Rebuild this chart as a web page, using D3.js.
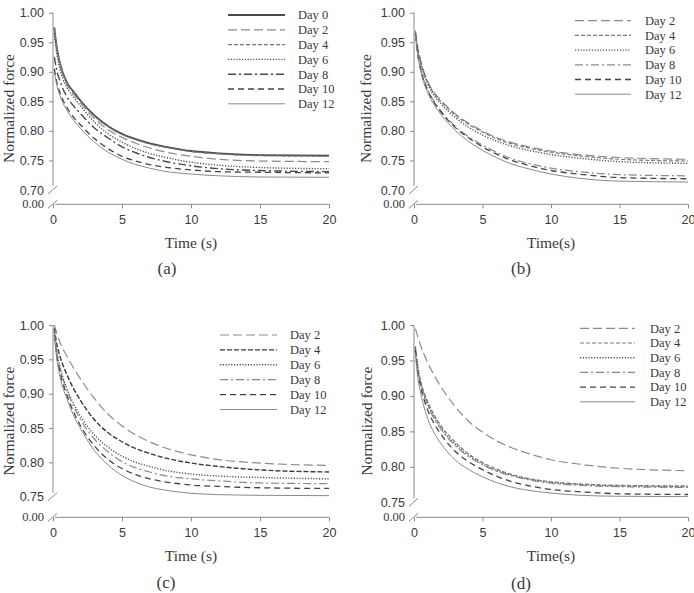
<!DOCTYPE html>
<html>
<head>
<meta charset="utf-8">
<script src="https://cdn.jsdelivr.net/npm/d3@7"></script>
<style>
  body { margin: 0; background: #fff; }
  svg { display: block; font-family: "Liberation Serif", "Times New Roman", serif; }
</style>
</head>
<body>
<svg width="694" height="593"></svg>
<script>
// time points (s) shared by every curve
const TIME = [0.1, 0.25, 0.5, 1, 1.5, 2, 3, 4, 5, 6, 7, 8, 10, 12, 15, 20];
const X_TICKS = [0, 5, 10, 15, 20];
const Y_TICKS_AB = [0.70, 0.75, 0.80, 0.85, 0.90, 0.95, 1.00];
const Y_TICKS_CD = [0.75, 0.80, 0.85, 0.90, 0.95, 1.00];

// (a)
const DAYS_A = ["Day 0", "Day 2", "Day 4", "Day 6", "Day 8", "Day 10", "Day 12"];
const VALUES_A = [
  [0.975, 0.945, 0.915, 0.882, 0.866, 0.851, 0.826, 0.808, 0.795, 0.786, 0.779, 0.774, 0.766, 0.762, 0.759, 0.758],
  [0.970, 0.942, 0.912, 0.879, 0.862, 0.847, 0.821, 0.802, 0.789, 0.779, 0.771, 0.765, 0.757, 0.752, 0.749, 0.748],
  [0.972, 0.944, 0.914, 0.881, 0.865, 0.850, 0.825, 0.807, 0.794, 0.785, 0.778, 0.773, 0.765, 0.761, 0.758, 0.757],
  [0.965, 0.935, 0.905, 0.874, 0.857, 0.842, 0.815, 0.795, 0.781, 0.770, 0.762, 0.756, 0.747, 0.742, 0.738, 0.736],
  [0.925, 0.905, 0.885, 0.858, 0.842, 0.829, 0.805, 0.788, 0.773, 0.763, 0.755, 0.749, 0.741, 0.736, 0.733, 0.731],
  [0.905, 0.885, 0.865, 0.840, 0.823, 0.810, 0.787, 0.770, 0.757, 0.749, 0.743, 0.739, 0.734, 0.731, 0.730, 0.729],
  [0.900, 0.880, 0.860, 0.835, 0.818, 0.804, 0.781, 0.764, 0.752, 0.743, 0.737, 0.732, 0.727, 0.724, 0.722, 0.7215]
];

// (b)
const DAYS_B = ["Day 2", "Day 4", "Day 6", "Day 8", "Day 10", "Day 12"];
const VALUES_B = [
  [0.970, 0.945, 0.918, 0.884, 0.864, 0.851, 0.829, 0.813, 0.800, 0.789, 0.781, 0.775, 0.766, 0.760, 0.755, 0.752],
  [0.968, 0.943, 0.916, 0.882, 0.862, 0.849, 0.827, 0.811, 0.798, 0.787, 0.779, 0.773, 0.764, 0.758, 0.752, 0.749],
  [0.966, 0.940, 0.913, 0.879, 0.859, 0.845, 0.823, 0.806, 0.793, 0.783, 0.775, 0.769, 0.760, 0.754, 0.748, 0.745],
  [0.965, 0.935, 0.905, 0.870, 0.849, 0.833, 0.808, 0.790, 0.776, 0.764, 0.754, 0.747, 0.737, 0.731, 0.726, 0.724],
  [0.963, 0.933, 0.903, 0.868, 0.847, 0.831, 0.806, 0.788, 0.773, 0.761, 0.751, 0.744, 0.733, 0.727, 0.721, 0.719],
  [0.962, 0.932, 0.900, 0.865, 0.843, 0.827, 0.801, 0.782, 0.767, 0.755, 0.745, 0.738, 0.727, 0.720, 0.715, 0.7135]
];

// (c)
const DAYS_C = ["Day 2", "Day 4", "Day 6", "Day 8", "Day 10", "Day 12"];
const VALUES_C = [
  [1.000, 0.990, 0.975, 0.955, 0.937, 0.921, 0.893, 0.870, 0.853, 0.840, 0.830, 0.822, 0.811, 0.804, 0.799, 0.7955],
  [0.995, 0.975, 0.955, 0.928, 0.907, 0.890, 0.862, 0.843, 0.830, 0.820, 0.813, 0.807, 0.799, 0.794, 0.789, 0.786],
  [0.990, 0.965, 0.940, 0.908, 0.885, 0.867, 0.840, 0.822, 0.809, 0.800, 0.794, 0.789, 0.783, 0.780, 0.778, 0.776],
  [0.990, 0.962, 0.937, 0.905, 0.881, 0.862, 0.834, 0.815, 0.801, 0.792, 0.786, 0.781, 0.776, 0.773, 0.770, 0.769],
  [0.985, 0.958, 0.932, 0.898, 0.873, 0.853, 0.824, 0.804, 0.791, 0.782, 0.776, 0.772, 0.767, 0.765, 0.763, 0.762],
  [0.985, 0.955, 0.925, 0.893, 0.868, 0.849, 0.817, 0.796, 0.781, 0.771, 0.764, 0.760, 0.755, 0.753, 0.752, 0.7515]
];

// (d)
const DAYS_D = ["Day 2", "Day 4", "Day 6", "Day 8", "Day 10", "Day 12"];
const VALUES_D = [
  [0.995, 0.985, 0.970, 0.947, 0.928, 0.912, 0.885, 0.864, 0.849, 0.837, 0.828, 0.821, 0.810, 0.804, 0.798, 0.7945],
  [0.970, 0.945, 0.920, 0.892, 0.872, 0.857, 0.835, 0.818, 0.806, 0.797, 0.790, 0.785, 0.779, 0.776, 0.774, 0.773],
  [0.968, 0.943, 0.918, 0.889, 0.869, 0.854, 0.832, 0.816, 0.804, 0.795, 0.789, 0.784, 0.778, 0.775, 0.773, 0.772],
  [0.966, 0.941, 0.916, 0.887, 0.867, 0.852, 0.830, 0.814, 0.803, 0.794, 0.788, 0.783, 0.777, 0.774, 0.772, 0.771],
  [0.965, 0.938, 0.912, 0.880, 0.860, 0.845, 0.822, 0.807, 0.796, 0.787, 0.780, 0.775, 0.768, 0.765, 0.762, 0.761],
  [0.960, 0.930, 0.903, 0.868, 0.847, 0.832, 0.810, 0.796, 0.786, 0.778, 0.772, 0.768, 0.763, 0.760, 0.7585, 0.758]
];

// line style for each day
const STYLE = {
  "Day 0":  { stroke: "#4a4a4a", width: 1.8, dash: null },
  "Day 2":  { stroke: "#8c8c8c", width: 1.2, dash: "9,4" },
  "Day 4":  { stroke: "#7a7a7a", width: 1.2, dash: "4,2" },
  "Day 6":  { stroke: "#505050", width: 1.4, dash: "1.2,1.6" },
  "Day 8":  { stroke: "#8a8a8a", width: 1.2, dash: "8,3,2,3" },
  "Day 10": { stroke: "#444", width: 1.3, dash: "6,4" },
  "Day 12": { stroke: "#8a8a8a", width: 1.0, dash: null }
};
// a few panels draw a day darker than the others
const OVERRIDE = {
  "(a)": { "Day 8": { stroke: "#4a4a4a", width: 1.4, dash: "8,3,2,3" } },
  "(c)": { "Day 4": { stroke: "#3a3a3a", width: 1.4, dash: "5,2" } }
};

const panels = [
  { days: DAYS_A, values: VALUES_A, yTicks: Y_TICKS_AB, left: 53, right: 329, top: 12.7, bottom: 190, zero: 204.3,
    xTitle: "Time (s)", tag: "(a)", tagX: 167, tagY: 274, yTitleX: 14,
    legend: { x1: 228, x2: 285, tx: 298, y: 15, dy: 14.8 } },
  { days: DAYS_B, values: VALUES_B, yTicks: Y_TICKS_AB, left: 414, right: 688, top: 12.7, bottom: 190, zero: 204.3,
    xTitle: "Time(s)", tag: "(b)", tagX: 521, tagY: 274, yTitleX: 371,
    legend: { x1: 575, x2: 631, tx: 645, y: 20.7, dy: 14.7 } },
  { days: DAYS_C, values: VALUES_C, yTicks: Y_TICKS_CD, left: 53, right: 329, top: 325, bottom: 496.7, zero: 517.3,
    xTitle: "Time (s)", tag: "(c)", tagX: 166, tagY: 588, yTitleX: 14,
    legend: { x1: 220, x2: 277, tx: 290, y: 335, dy: 14.9 } },
  { days: DAYS_D, values: VALUES_D, yTicks: Y_TICKS_CD, left: 414, right: 688, top: 325, bottom: 502.3, zero: 517.3,
    xTitle: "Time(s)", tag: "(d)", tagX: 521, tagY: 589, yTitleX: 372,
    legend: { x1: 580, x2: 635, tx: 650, y: 328.3, dy: 14.7 } }
];

const AXIS = "#8a8a8a";
const TEXT = "#3a3a3a";
const svg = d3.select("svg");

panels.forEach(p => {
  const g = svg.append("g");
  const low = p.yTicks[0];
  const style = d => (OVERRIDE[p.tag] && OVERRIDE[p.tag][d]) || STYLE[d];

  const x = d3.scaleLinear().domain([0, 20]).range([p.left, p.right]);
  const y = d3.scaleLinear().domain([low, 1]).range([p.bottom, p.top]);

  // y axis (upper part)
  const yAxis = g.append("g")
      .attr("transform", `translate(${p.left},0)`)
      .call(d3.axisLeft(y).tickValues(p.yTicks).tickFormat(d3.format(".2f")).tickSize(4).tickPadding(5));
  yAxis.select(".domain").remove();
  yAxis.selectAll(".tick line").attr("stroke", AXIS).filter(d => d === low).remove();
  yAxis.selectAll(".tick text").attr("fill", TEXT).style("font-size", "12.5px").style("font-family", "inherit");
  g.append("line")
      .attr("x1", p.left).attr("x2", p.left)
      .attr("y1", p.top).attr("y2", p.bottom - 4)
      .attr("stroke", AXIS);

  // 0.00 label and break marks
  g.append("text")
      .attr("x", p.left - 9).attr("y", p.zero).attr("dy", "0.32em")
      .attr("text-anchor", "end").attr("fill", TEXT).style("font-size", "12.5px")
      .text("0.00");
  [p.bottom, p.zero].forEach(yy => {
    g.append("line")
        .attr("x1", p.left - 5).attr("y1", yy + 4)
        .attr("x2", p.left + 4).attr("y2", yy - 4)
        .attr("stroke", AXIS);
  });

  // x axis
  const xAxis = g.append("g")
      .attr("transform", `translate(0,${p.zero})`)
      .call(d3.axisBottom(x).tickValues(X_TICKS).tickSize(4).tickSizeOuter(0).tickPadding(7));
  xAxis.select(".domain").attr("stroke", AXIS).attr("d", `M${p.left + 2},0H${p.right}`);
  xAxis.selectAll(".tick line").attr("stroke", AXIS);
  xAxis.selectAll(".tick text").attr("fill", TEXT).style("font-size", "12.5px").style("font-family", "inherit");

  // titles
  g.append("text")
      .attr("x", (p.left + p.right) / 2).attr("y", p.zero + 44)
      .attr("text-anchor", "middle").attr("fill", TEXT).style("font-size", "15.5px")
      .text(p.xTitle);
  g.append("text")
      .attr("transform", `translate(${p.yTitleX},${(p.top + p.zero) / 2}) rotate(-90)`)
      .attr("text-anchor", "middle").attr("fill", TEXT).style("font-size", "15.5px")
      .text("Normalized force");
  g.append("text")
      .attr("x", p.tagX).attr("y", p.tagY)
      .attr("text-anchor", "middle").attr("fill", TEXT).style("font-size", "17px")
      .text(p.tag);

  // curves
  const line = d3.line()
      .x((d, i) => x(TIME[i]))
      .y(d => y(d))
      .curve(d3.curveMonotoneX);

  g.selectAll(".curve")
      .data(p.days)
      .enter()
      .append("path")
      .classed("curve", true)
      .attr("fill", "none")
      .attr("stroke", d => style(d).stroke)
      .attr("stroke-width", d => style(d).width)
      .attr("stroke-dasharray", d => style(d).dash)
      .attr("d", (d, i) => line(p.values[i]));

  // legend
  const items = g.selectAll(".legend")
      .data(p.days)
      .enter()
      .append("g")
      .classed("legend", true)
      .attr("transform", (d, i) => `translate(0,${p.legend.y + i * p.legend.dy})`);
  items.append("line")
      .attr("x1", p.legend.x1).attr("x2", p.legend.x2)
      .attr("stroke", d => style(d).stroke)
      .attr("stroke-width", d => style(d).width)
      .attr("stroke-dasharray", d => style(d).dash);
  items.append("text")
      .attr("x", p.legend.tx).attr("dy", "0.35em")
      .attr("fill", TEXT).style("font-size", "12.5px")
      .text(d => d);
});
</script>
</body>
</html>
